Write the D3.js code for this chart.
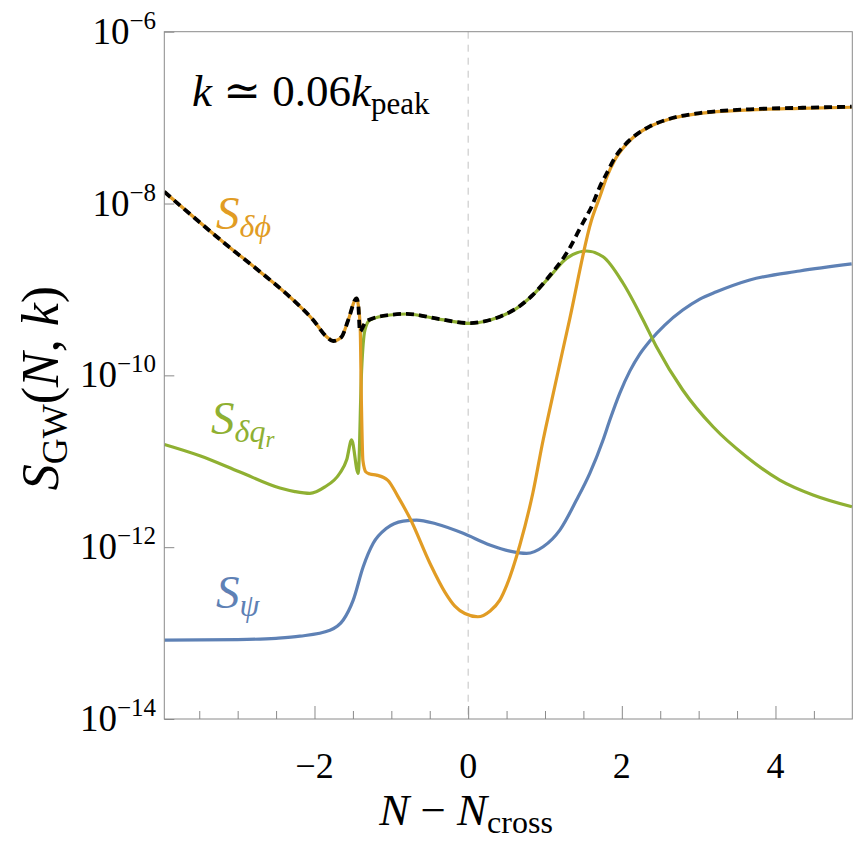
<!DOCTYPE html>
<meta charset="utf-8">
<title>S_GW(N, k)</title>
<style>
  body {
    margin: 0;
    background: #fff;
  }

  svg {
    display: block;
  }

  text {
    font-family: "Liberation Serif", "Times New Roman", "DejaVu Serif", serif;
    fill: #000;
  }

  .frame {
    fill: none;
    stroke: #8a8a8a;
    stroke-width: 1;
  }

  .axis line {
    stroke: #8a8a8a;
  }

  .zero {
    stroke: #c2c2c2;
    stroke-width: 1;
    stroke-dasharray: 7 6;
  }

  .curve {
    fill: none;
    stroke-width: 3.2;
    stroke-linejoin: round;
  }

  .total {
    fill: none;
    stroke: #000;
    stroke-width: 3.8;
    stroke-dasharray: 8 5;
  }
</style>

<body>
  <script src="https://cdn.jsdelivr.net/npm/d3@7"></script>
  <script>
    var serif = "'Liberation Serif', 'Times New Roman', 'DejaVu Serif', serif";

    // N - N_cross, S values
    var phiPoints = [
      [-3.955, 1.37e-8], [-3.578, 7.0e-9], [-3.143, 3.29e-9], [-2.710, 1.61e-9],
      [-2.277, 7.53e-10], [-2.017, 4.41e-10], [-1.842, 2.81e-10], [-1.756, 2.51e-10],
      [-1.647, 2.81e-10], [-1.561, 4.41e-10], [-1.452, 7.87e-10], [-1.430, 6.6e-10],
      [-1.405, 3.55e-10], [-1.390, 5.1e-11], [-1.370, 1.02e-11], [-1.331, 7.5e-12],
      [-1.279, 7.1e-12], [-1.192, 6.9e-12], [-1.045, 6.0e-12], [-0.915, 3.9e-12],
      [-0.759, 2.18e-12], [-0.498, 6.5e-13], [-0.303, 3.0e-13], [-0.173, 2.06e-13],
      [-0.043, 1.69e-13], [0.126, 1.55e-13], [0.282, 1.80e-13], [0.412, 2.42e-13],
      [0.503, 3.62e-13], [0.673, 1.06e-12], [0.842, 4.27e-12], [0.976, 1.77e-11],
      [1.020, 2.71e-11], [1.323, 4.58e-10], [1.606, 6.43e-9], [1.714, 1.20e-8],
      [1.805, 2.04e-8], [1.909, 3.21e-8], [2.039, 4.67e-8], [2.169, 6.11e-8],
      [2.364, 7.87e-8], [2.624, 9.64e-8], [3.015, 1.12e-7], [3.665, 1.23e-7],
      [4.316, 1.28e-7], [4.992, 1.32e-7]
    ];

    var qrPoints = [
      [-3.955, 1.57e-11], [-3.493, 1.16e-11], [-2.970, 7.5e-12], [-2.450, 4.88e-12],
      [-2.255, 4.44e-12], [-2.060, 4.23e-12], [-1.870, 5.0e-12], [-1.669, 7.3e-12],
      [-1.580, 1.05e-11], [-1.517, 1.77e-11], [-1.431, 7.2e-12], [-1.387, 1.15e-10],
      [-1.344, 3.37e-10], [-1.279, 4.41e-10], [-1.019, 5.04e-10], [-0.801, 5.18e-10],
      [-0.368, 4.49e-10], [0.022, 4.03e-10], [0.191, 4.21e-10], [0.412, 4.81e-10],
      [0.630, 6.03e-10], [0.842, 8.61e-10], [1.063, 1.41e-9], [1.280, 2.30e-9],
      [1.540, 2.80e-9], [1.756, 2.40e-9], [2.017, 1.18e-9], [2.277, 4.41e-10],
      [2.451, 2.15e-10], [2.793, 6.75e-11], [3.188, 2.52e-11], [3.622, 1.13e-11],
      [4.056, 6.04e-12], [4.489, 4.05e-12], [4.996, 2.95e-12]
    ];

    var psiPoints = [
      [-3.955, 8.28e-14], [-3.0, 8.4e-14], [-2.5, 8.7e-14], [-2.190, 9.2e-14],
      [-1.799, 1.08e-13], [-1.626, 1.42e-13], [-1.496, 2.42e-13], [-1.366, 5.92e-13],
      [-1.236, 1.11e-12], [-1.062, 1.66e-12], [-0.846, 2.01e-12], [-0.671, 2.07e-12],
      [-0.411, 1.86e-12], [-0.065, 1.45e-12], [0.282, 1.06e-12], [0.543, 9.0e-13],
      [0.760, 8.47e-13], [0.976, 1.01e-12], [1.193, 1.58e-12], [1.410, 3.53e-12],
      [1.583, 7.23e-12], [1.756, 1.77e-11], [1.844, 3.02e-11], [1.974, 6.22e-11],
      [2.104, 1.12e-10], [2.234, 1.77e-10], [2.364, 2.51e-10], [2.559, 3.85e-10],
      [2.793, 5.75e-10], [3.015, 7.73e-10], [3.232, 9.4e-10], [3.665, 1.29e-9],
      [4.316, 1.64e-9], [4.992, 1.98e-9]
    ];

    // total (black dashed)
    var totalPoints = [
      [-3.955, 1.37e-8], [-3.578, 7.0e-9], [-3.143, 3.29e-9], [-2.710, 1.61e-9],
      [-2.277, 7.53e-10], [-2.017, 4.41e-10], [-1.842, 2.81e-10], [-1.756, 2.51e-10],
      [-1.647, 2.81e-10], [-1.561, 4.41e-10], [-1.452, 7.87e-10], [-1.430, 6.6e-10],
      [-1.409, 3.22e-10], [-1.344, 4.06e-10], [-1.279, 4.47e-10], [-1.019, 5.05e-10],
      [-0.801, 5.2e-10], [-0.368, 4.5e-10], [0.022, 4.05e-10], [0.191, 4.22e-10],
      [0.412, 4.82e-10], [0.630, 6.04e-10], [0.842, 8.65e-10], [1.063, 1.45e-9],
      [1.280, 2.63e-9], [1.492, 5.93e-9], [1.606, 9.18e-9], [1.714, 1.57e-8],
      [1.805, 2.26e-8], [1.909, 3.41e-8], [2.039, 4.8e-8], [2.169, 6.15e-8],
      [2.364, 7.9e-8], [2.624, 9.7e-8], [3.015, 1.13e-7], [3.665, 1.25e-7],
      [4.316, 1.30e-7], [4.992, 1.34e-7]
    ];

    var xMajorTicks = [-2, 0, 2, 4];
    var xMinorTicks = [-3.5, -3, -2.5, -1.5, -1, -0.5, 0.5, 1, 1.5, 2.5, 3, 3.5, 4.5];
    var yTickExps = [-6, -8, -10, -12, -14];

    var width = 855,
      height = 842;

    var colors = { psi: "#5e81b5", phi: "#e19c24", qr: "#8fb032" };

    var x = d3.scaleLinear().domain([-3.955, 5]).range([164.3, 852.3]);
    var y = d3.scaleLog().domain([1e-14, 1e-6]).range([719, 31.7]);

    var svg = d3.select("body").append("svg")
      .attr("width", width)
      .attr("height", height)
      .attr("font-family", serif);

    svg.append("defs").append("clipPath").attr("id", "plot")
      .append("rect")
      .attr("x", x.range()[0]).attr("y", y.range()[1])
      .attr("width", x.range()[1] - x.range()[0])
      .attr("height", y.range()[0] - y.range()[1]);

    // helper: text made of runs, shift = baseline offset (down is +)
    function mathText(g, runs) {
      var prev = 0;
      g.attr("font-family", serif);
      runs.forEach(function (r) {
        var shift = r.shift || 0;
        g.append("tspan")
          .attr("dy", shift - prev)
          .attr("font-size", r.size)
          .attr("font-style", r.it ? "italic" : "normal")
          .text(r.t);
        prev = shift;
      });
      return g;
    }

    // dashed line at N = N_cross
    svg.append("line").attr("class", "zero")
      .attr("x1", x(0)).attr("x2", x(0))
      .attr("y1", y.range()[1]).attr("y2", y.range()[0]);

    var line = d3.line()
      .x(function (d) { return x(d[0]); })
      .y(function (d) { return y(d[1]); })
      .curve(d3.curveMonotoneX);

    var curves = svg.append("g").attr("clip-path", "url(#plot)");

    curves.append("path").datum(psiPoints).attr("class", "curve")
      .attr("stroke", colors.psi).attr("d", line);
    curves.append("path").datum(qrPoints).attr("class", "curve")
      .attr("stroke", colors.qr).attr("d", line);
    curves.append("path").datum(phiPoints).attr("class", "curve")
      .attr("stroke", colors.phi).attr("d", line);
    curves.append("path").datum(totalPoints).attr("class", "total")
      .attr("d", line);

    // frame
    svg.append("rect").attr("class", "frame")
      .attr("x", x.range()[0]).attr("y", y.range()[1])
      .attr("width", x.range()[1] - x.range()[0])
      .attr("height", y.range()[0] - y.range()[1]);

    // x ticks (inward)
    svg.append("g").attr("class", "axis")
      .attr("transform", "translate(0," + y.range()[0] + ")")
      .call(d3.axisBottom(x).tickValues(xMinorTicks).tickSize(-8).tickFormat(""));
    svg.append("g").attr("class", "axis")
      .attr("transform", "translate(0," + y.range()[0] + ")")
      .call(d3.axisBottom(x).tickValues(xMajorTicks).tickSize(-13).tickFormat(""));

    // y ticks (inward) with 10^n labels
    svg.append("g").attr("class", "axis")
      .attr("transform", "translate(" + x.range()[0] + ",0)")
      .call(d3.axisLeft(y).tickValues(yTickExps.map(function (e) { return Math.pow(10, e); }))
        .tickSize(-10).tickFormat(""));
    svg.selectAll(".axis .domain").remove();

    svg.append("g").selectAll("text").data(xMajorTicks)
      .enter().append("text")
      .attr("font-family", serif)
      .attr("x", function (d) { return x(d); })
      .attr("y", 778)
      .attr("text-anchor", "middle")
      .attr("font-size", 36)
      .text(function (d) { return d < 0 ? "\u2212" + Math.abs(d) : d; });

    yTickExps.forEach(function (e) {
      var t = svg.append("text")
        .attr("x", 156)
        .attr("y", y(Math.pow(10, e)) + 12)
        .attr("text-anchor", "end");
      mathText(t, [
        { t: "10", size: 37 },
        { t: "\u2212" + Math.abs(e), size: 25, shift: -15 }
      ]);
    });

    // axis labels
    var xl = svg.append("text")
      .attr("x", 466).attr("y", 825)
      .attr("text-anchor", "middle");
    mathText(xl, [
      { t: "N", it: true, size: 45 },
      { t: " \u2212 ", size: 45 },
      { t: "N", it: true, size: 45 },
      { t: "cross", size: 32, shift: 8 }
    ]);

    var yl = svg.append("text")
      .attr("transform", "translate(58,388) rotate(-90)")
      .attr("text-anchor", "middle");
    mathText(yl, [
      { t: "S", it: true, size: 52 },
      { t: "GW", size: 36, shift: 9 },
      { t: "(", size: 52 },
      { t: "N", it: true, size: 52 },
      { t: ", ", size: 52 },
      { t: "k", it: true, size: 52 },
      { t: ")", size: 52 }
    ]);

    // annotations
    var kl = svg.append("text").attr("x", 192).attr("y", 106);
    mathText(kl, [
      { t: "k", it: true, size: 45 },
      { t: " \u2243 0.06", size: 45 },
      { t: "k", it: true, size: 45 },
      { t: "peak", size: 31, shift: 8 }
    ]);

    var lPhi = svg.append("text").attr("x", 216).attr("y", 229).style("fill", colors.phi);
    mathText(lPhi, [
      { t: "S", it: true, size: 47 },
      { t: "\u03b4\u03d5", it: true, size: 32, shift: 8 }
    ]);

    var lQr = svg.append("text").attr("x", 211).attr("y", 434).style("fill", colors.qr);
    mathText(lQr, [
      { t: "S", it: true, size: 47 },
      { t: "\u03b4q", it: true, size: 32, shift: 8 },
      { t: "r", it: true, size: 23, shift: 13 }
    ]);

    var lPsi = svg.append("text").attr("x", 216).attr("y", 608).style("fill", colors.psi);
    mathText(lPsi, [
      { t: "S", it: true, size: 47 },
      { t: "\u03c8", it: true, size: 32, shift: 8 }
    ]);
  </script>
</body>
